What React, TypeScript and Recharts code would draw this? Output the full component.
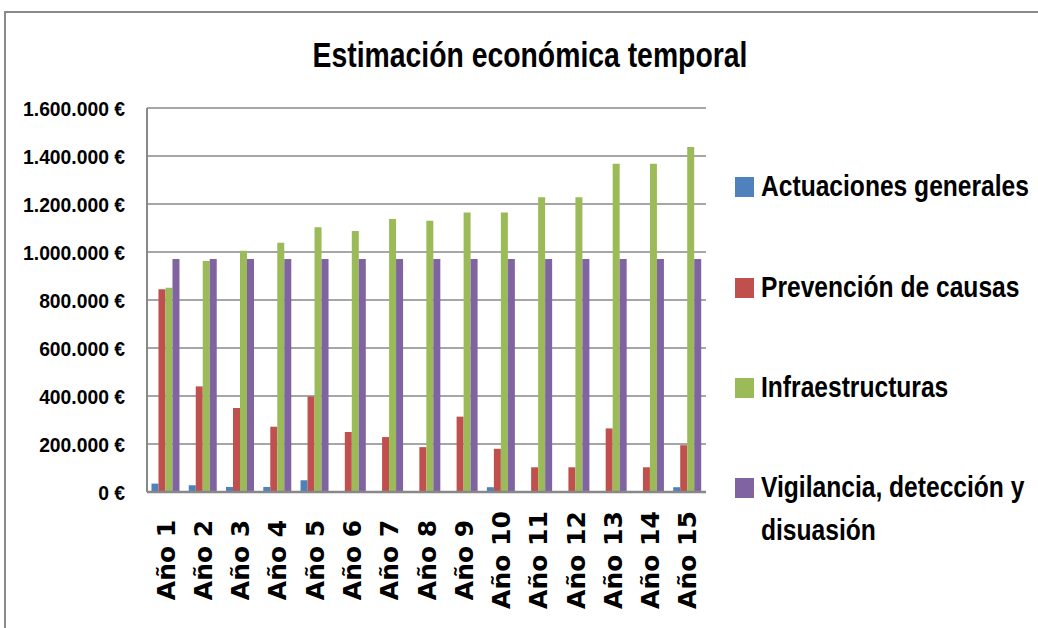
import React from 'react';
import { BarChart, Bar, XAxis, YAxis, CartesianGrid } from 'recharts';

const years = ['Año 1', 'Año 2', 'Año 3', 'Año 4', 'Año 5', 'Año 6', 'Año 7', 'Año 8', 'Año 9', 'Año 10', 'Año 11', 'Año 12', 'Año 13', 'Año 14', 'Año 15'];
const actuaciones = [35000, 28000, 21000, 21000, 49000, 0, 0, 0, 0, 20000, 0, 0, 0, 0, 20000];
const prevencion = [845000, 440000, 350000, 272000, 398000, 250000, 229000, 187000, 314000, 180000, 103000, 103000, 265000, 103000, 195000];
const infraestructuras = [851000, 962000, 1005000, 1039000, 1103000, 1088000, 1137000, 1130000, 1165000, 1165000, 1228000, 1228000, 1368000, 1368000, 1437000];
const vigilancia = [971000, 971000, 971000, 971000, 971000, 971000, 971000, 971000, 971000, 971000, 971000, 971000, 971000, 971000, 971000];
const yTicks = [0, 200000, 400000, 600000, 800000, 1000000, 1200000, 1400000, 1600000];

const series = [
    { key: 'actuaciones', name: 'Actuaciones generales', color: '#4F81BD', lines: ['Actuaciones generales'] },
    { key: 'prevencion', name: 'Prevención de causas', color: '#C0504D', lines: ['Prevención de causas'] },
    { key: 'infraestructuras', name: 'Infraestructuras', color: '#9BBB59', lines: ['Infraestructuras'] },
    { key: 'vigilancia', name: 'Vigilancia, detección y disuasión', color: '#8064A2', lines: ['Vigilancia, detección y', 'disuasión'] },
];

const data = years.map((name, i) => ({
    name,
    actuaciones: actuaciones[i],
    prevencion: prevencion[i],
    infraestructuras: infraestructuras[i],
    vigilancia: vigilancia[i],
}));

const SANS = '"Liberation Sans", Arial, sans-serif';

const fmtEuro = (v: number) => String(v).replace(/\B(?=(\d{3})+(?!\d))/g, '.') + ' €';

const YearTick = (props: any) => {
    const { x, payload } = props;
    const y = 560;
    return (
        <text
            x={x}
            y={y}
            dy="0.36em"
            textAnchor="middle"
            transform={`rotate(-90, ${x}, ${y})`}
            fontFamily='"DejaVu Sans", sans-serif'
            fontWeight="bold"
            fontSize={25}
            fill="#000"
        >
            {payload.value}
        </text>
    );
};

const EuroTick = (props: any) => {
    const { x, y, payload } = props;
    return (
        <text
            transform={`translate(${x},${y}) scale(0.92,1)`}
            dy="0.36em"
            textAnchor="end"
            fontFamily={SANS}
            fontWeight="bold"
            fontSize={21}
            fill="#000"
        >
            {fmtEuro(payload.value)}
        </text>
    );
};

// baselines of the first line of each legend entry
const legendBaselines = [196, 297, 397, 497];

const App: React.FC = () => {
    return (
        <div style={{ position: 'absolute', left: 0, top: 0, width: 1038, height: 628, background: '#fff', overflow: 'hidden' }}>
            <div style={{
                position: 'absolute', left: 4, top: 11, width: 1100, height: 700,
                borderLeft: '2px solid #8a8a8a', borderTop: '2px solid #8a8a8a',
            }} />
            <div style={{
                position: 'absolute', left: 0, top: 37, width: 1060, textAlign: 'center',
                fontFamily: SANS, fontWeight: 'bold', fontSize: 35, lineHeight: '35px', color: '#000',
                transform: 'scaleX(0.81)', transformOrigin: '530px 0', whiteSpace: 'nowrap',
            }}>
                Estimación económica temporal
            </div>
            <BarChart
                width={1038}
                height={628}
                data={data}
                margin={{ top: 108, right: 332, left: 0, bottom: 0 }}
                barCategoryGap="12%"
                barGap={0}
                style={{ position: 'absolute', left: 0, top: 0 }}
            >
                <CartesianGrid vertical={false} stroke="#888" strokeWidth={1.5} />
                <XAxis
                    dataKey="name"
                    interval={0}
                    tickLine={false}
                    axisLine={{ stroke: '#888', strokeWidth: 2.5 }}
                    tick={<YearTick />}
                    height={136}
                />
                <YAxis
                    width={147}
                    domain={[0, 1600000]}
                    ticks={yTicks}
                    interval={0}
                    tickLine={false}
                    tickMargin={16}
                    axisLine={{ stroke: '#888', strokeWidth: 2 }}
                    tick={<EuroTick />}
                />
                {series.map((s) => (
                    <Bar key={s.key} dataKey={s.key} name={s.name} fill={s.color} isAnimationActive={false} />
                ))}
            </BarChart>
            {series.map((s, i) => (
                <div key={s.key}>
                    <div style={{
                        position: 'absolute', left: 735, top: legendBaselines[i] - 19,
                        width: 19, height: 20, background: s.color,
                    }} />
                    <div style={{
                        position: 'absolute', left: 761, top: legendBaselines[i] - 32,
                        fontFamily: SANS, fontWeight: 'bold', fontSize: 30, lineHeight: '43px',
                        color: '#000', whiteSpace: 'nowrap',
                        transform: 'scaleX(0.82)', transformOrigin: '0 0',
                    }}>
                        {s.lines.map((l) => (
                            <div key={l}>{l}</div>
                        ))}
                    </div>
                </div>
            ))}
        </div>
    );
};

export default App;
